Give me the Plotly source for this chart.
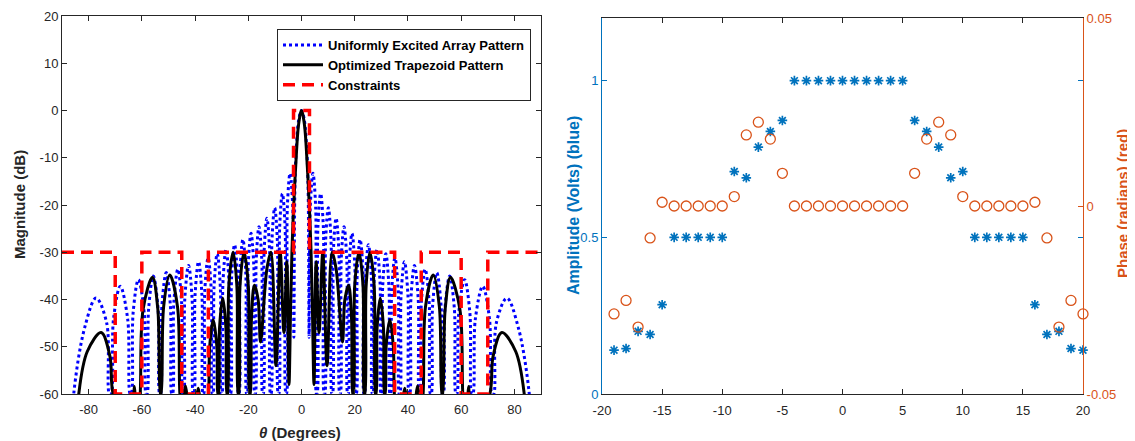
import plotly.graph_objects as go

# ---------------- Left panel: array patterns (read on 0..90 deg; the pattern is symmetric) ----------------
uni_theta_half = [0, 1, 2, 2.5, 2.87,
                  3.30, 4.30, 5.31, 5.65,
                  5.83, 6.17, 7.18, 8.20, 8.54,
                  8.72, 9.07, 10.08, 11.10, 11.45,
                  11.63, 11.98, 13.0, 14.04, 14.39,
                  14.57, 14.93, 15.97, 17.01, 17.37,
                  17.55, 17.91, 18.97, 20.04, 20.40,
                  20.58, 20.95, 22.02, 23.12, 23.49,
                  23.67, 24.05, 25.15, 26.27, 26.65,
                  26.84, 27.23, 28.36, 29.51, 29.90,
                  30.10, 30.51, 31.67, 32.86, 33.27,
                  33.48, 33.90, 35.1, 36.35, 36.77,
                  36.98, 37.42, 38.68, 39.99, 40.43,
                  40.66, 41.12, 42.45, 43.85, 44.31,
                  44.55, 45.05, 46.47, 47.97, 48.47,
                  48.73, 49.27, 50.84, 52.45, 52.99,
                  53.28, 53.89, 55.7, 57.45, 58.06,
                  58.39, 59.10, 61.3, 63.27, 63.98,
                  64.39, 65.31, 68.1, 70.66, 71.58,
                  72.2, 73.2, 77.2, 81.5, 85.6, 86.5]
uni_db_half = [0, -1.8, -8.6, -17, -48,
               -20.3, -13.3, -20.3, -60,
               -60, -24.6, -17.6, -24.6, -60,
               -60, -27.6, -20.6, -27.6, -60,
               -60, -29.8, -22.8, -29.8, -60,
               -60, -31.6, -24.6, -31.6, -60,
               -60, -33.0, -26.0, -33.0, -60,
               -60, -34.3, -27.3, -34.3, -60,
               -60, -35.4, -28.4, -35.4, -60,
               -60, -36.4, -29.4, -36.4, -60,
               -60, -37.3, -30.3, -37.3, -60,
               -60, -38.2, -31.2, -38.2, -60,
               -60, -39.0, -32.0, -39.0, -60,
               -60, -39.8, -32.8, -39.8, -60,
               -60, -40.6, -33.6, -40.6, -60,
               -60, -41.3, -34.3, -41.3, -60,
               -60, -42.0, -35.0, -42.0, -60,
               -60, -42.8, -35.8, -42.8, -60,
               -60, -44.2, -37.2, -44.2, -60,
               -60, -45.0, -39.7, -46.0, -60, -70]

opt_theta_half = [0, 1.1, 2.2, 3.0, 3.6, 4.1, 4.7,
                  5.5, 6.6, 8.0, 9.6, 11.5, 13.0, 15.4, 16.3, 17.7, 18.8, 19.3,
                  19.5, 20.0, 21.6, 23.1, 23.6,
                  23.8, 24.3, 25.7, 27.3, 27.8,
                  28.0, 28.4, 29.6, 30.8, 31.2,
                  31.4, 31.8, 33.2, 34.5, 34.9,
                  36.6, 38.8, 41.0, 43.6, 44.6,
                  45.7, 46.6, 49.5, 51.8, 52.8,
                  53.0, 54.0, 56.0, 59.5, 60.6,
                  61.7, 62.8, 63.9,
                  70.8, 72.0, 75.3, 80.5, 83.7, 84.5]
opt_db_half = [0, -3, -12, -21, -30, -42, -58,
               -32, -47, -30, -54, -30, -33.5, -49, -40, -37, -44, -60,
               -60, -37, -30, -37, -60,
               -60, -37, -30, -37, -60,
               -60, -46, -39.7, -46, -60,
               -60, -50, -44.3, -50, -60,
               -72, -58.8, -72, -58.3, -66,
               -60, -41.5, -34.8, -41.5, -60,
               -60, -42, -35.3, -42, -60,
               -70, -58.4, -70,
               -60, -52, -47, -51, -60, -70]

mask_theta = [-90, -70, -70, -60, -60, -45, -45, -35, -35, -3, -3, 3, 3, 35, 35, 45, 45, 60, 60, 70, 70, 90]
mask_db = [-30, -30, -60, -60, -30, -30, -60, -60, -30, -30, 0, 0, -30, -30, -60, -60, -30, -30, -60, -60, -30, -30]

theta_ticks = [-80, -60, -40, -20, 0, 20, 40, 60, 80]
theta_ticktext = ["-80", "-60", "-40", "-20", "0", "20", "40", "60", "80"]
db_ticks = [-60, -50, -40, -30, -20, -10, 0, 10, 20]
db_ticktext = ["-60", "-50", "-40", "-30", "-20", "-10", "0", "10", "20"]

# ---------------- Right panel: element excitations ----------------
element = list(range(-19, 21))
amplitude = [0.14, 0.145, 0.20, 0.19, 0.285, 0.5, 0.5, 0.5, 0.5, 0.5,
             0.71, 0.69, 0.788, 0.838, 0.873, 1.0, 1.0, 1.0, 1.0, 1.0,
             1.0, 1.0, 1.0, 1.0, 1.0, 0.873, 0.838, 0.788, 0.69, 0.71,
             0.5, 0.5, 0.5, 0.5, 0.5, 0.285, 0.19, 0.20, 0.145, 0.14]
phase = [-0.0287, -0.0251, -0.0322, -0.0085, 0.001, 0, 0, 0, 0, 0,
         0.0025, 0.0189, 0.0223, 0.0178, 0.0087, 0, 0, 0, 0, 0,
         0, 0, 0, 0, 0, 0.0087, 0.0178, 0.0223, 0.0189, 0.0025,
         0, 0, 0, 0, 0, 0.001, -0.0085, -0.0322, -0.0251, -0.0287]
el_ticks = [-20, -15, -10, -5, 0, 5, 10, 15, 20]
el_ticktext = ["-20", "-15", "-10", "-5", "0", "5", "10", "15", "20"]
amp_ticks = [0, 0.5, 1]
amp_ticktext = ["0", "0.5", "1"]
ph_ticks = [-0.05, 0, 0.05]
ph_ticktext = ["-0.05", "0", "0.05"]


def mirror(th, vals):
    return [-t for t in reversed(th[1:])] + th, list(reversed(vals[1:])) + vals


uni_theta, uni_db = mirror(uni_theta_half, uni_db_half)
opt_theta, opt_db = mirror(opt_theta_half, opt_db_half)

BLUE = "#0072BD"
ORANGE = "#D95319"
DARK = "#262626"
FONT = "Liberation Sans, Arial, sans-serif"
OFF = 8                      # page body margin
W, H = 1135 - OFF, 441 - OFF  # figure size so the page is exactly the window


def px(x):
    return (x - OFF) / W


def py(y):
    return 1 - (y - OFF) / H


fig = go.Figure()
fig.add_trace(go.Scatter(x=uni_theta, y=uni_db, mode="lines", name="Uniformly Excited Array Pattern",
                         line=dict(color="#0000FF", width=3, dash="3px,3px", shape="spline", smoothing=1),
                         xaxis="x", yaxis="y"))
fig.add_trace(go.Scatter(x=opt_theta, y=opt_db, mode="lines", name="Optimized Trapezoid Pattern",
                         line=dict(color="#000000", width=3, shape="spline", smoothing=1),
                         xaxis="x", yaxis="y"))
fig.add_trace(go.Scatter(x=mask_theta, y=mask_db, mode="lines", name="Constraints",
                         line=dict(color="#FF0000", width=3.5, dash="12px,7px"),
                         xaxis="x", yaxis="y"))

fig.add_trace(go.Scatter(x=element, y=amplitude, mode="markers", showlegend=False, cliponaxis=False,
                         marker=dict(symbol="asterisk-open", size=8, color=BLUE, line=dict(color=BLUE, width=1.7)),
                         xaxis="x2", yaxis="y2"))
fig.add_trace(go.Scatter(x=element, y=phase, mode="markers", showlegend=False, cliponaxis=False,
                         marker=dict(symbol="circle-open", size=10, color=ORANGE, line=dict(color=ORANGE, width=1.3)),
                         xaxis="x2", yaxis="y3"))
fig.add_trace(go.Scatter(x=[None], y=[None], mode="markers", showlegend=False, hoverinfo="skip",
                         xaxis="x2", yaxis="y4"))

tickfont = dict(family=FONT, size=13, color=DARK)
ydom = [py(394), py(16)]
ydom2 = [py(394), py(18)]


def ann(text, xpx, ypx, color, size, angle=0):
    return dict(text=text, x=px(xpx), y=py(ypx), xref="paper", yref="paper", showarrow=False,
                textangle=angle, xanchor="center", yanchor="middle",
                font=dict(family=FONT, size=size, color=color, weight="bold"))


fig.update_layout(
    width=W, height=H,
    margin=dict(l=0, r=0, t=0, b=0, autoexpand=False),
    paper_bgcolor="white", plot_bgcolor="white",
    font=dict(family=FONT, color=DARK),
    showlegend=True,
    legend=dict(x=px(531), y=py(29), xanchor="right", yanchor="top",
                bgcolor="white", bordercolor=DARK, borderwidth=1,
                font=dict(family=FONT, size=13, color="#000000", weight="bold"),
                tracegroupgap=0, itemwidth=40),
    xaxis=dict(domain=[px(62), px(541)], range=[-90, 90], tickvals=theta_ticks, ticktext=theta_ticktext,
               ticks="inside", ticklen=5, tickcolor=DARK, showline=True, linecolor=DARK, linewidth=1,
               mirror="ticks", showgrid=False, zeroline=False, tickfont=tickfont, anchor="y", automargin=False,
               ticklabelstandoff=3),
    yaxis=dict(domain=ydom, range=[-60, 20], tickvals=db_ticks, ticktext=db_ticktext,
               ticks="inside", ticklen=5, tickcolor=DARK, showline=True, linecolor=DARK, linewidth=1,
               mirror="ticks", showgrid=False, zeroline=False, tickfont=tickfont, anchor="x", automargin=False),
    xaxis2=dict(domain=[px(602), px(1083)], range=[-20, 20], tickvals=el_ticks, ticktext=el_ticktext,
                ticks="inside", ticklen=5, tickcolor=DARK, showline=True, linecolor=DARK, linewidth=1,
                mirror="ticks", showgrid=False, zeroline=False, tickfont=tickfont, anchor="y2", automargin=False,
                ticklabelstandoff=4),
    yaxis2=dict(domain=ydom2, range=[0, 1.2], tickvals=amp_ticks, ticktext=amp_ticktext,
                ticks="inside", ticklen=5, tickcolor=BLUE, showline=True, linecolor=BLUE, linewidth=1,
                showgrid=False, zeroline=False, anchor="x2", side="left", automargin=False,
                tickfont=dict(family=FONT, size=13, color=BLUE)),
    yaxis3=dict(range=[-0.05, 0.05], tickvals=ph_ticks, ticktext=ph_ticktext, overlaying="y2", side="right",
                anchor="x2", ticks="inside", ticklen=5, tickcolor=ORANGE, showline=True, linecolor=ORANGE,
                linewidth=1, showgrid=False, zeroline=False, automargin=False,
                tickfont=dict(family=FONT, size=13, color=ORANGE)),
    yaxis4=dict(range=[0, 1.2], tickvals=amp_ticks, overlaying="y2", side="right", anchor="x2",
                ticks="inside", ticklen=5, tickcolor=BLUE, showline=False, showticklabels=False,
                showgrid=False, zeroline=False, automargin=False),
    annotations=[
        ann("Magnitude (dB)", 19, 205, DARK, 15, -90),
        ann("<i>θ</i> (Degrees)", 300, 432, DARK, 15),
        ann("Amplitude (Volts) (blue)", 573, 206, BLUE, 16, -90),
        ann("Phase (radians) (red)", 1122, 204, ORANGE, 15, -90),
    ],
)

fig.write_html("out.html")
